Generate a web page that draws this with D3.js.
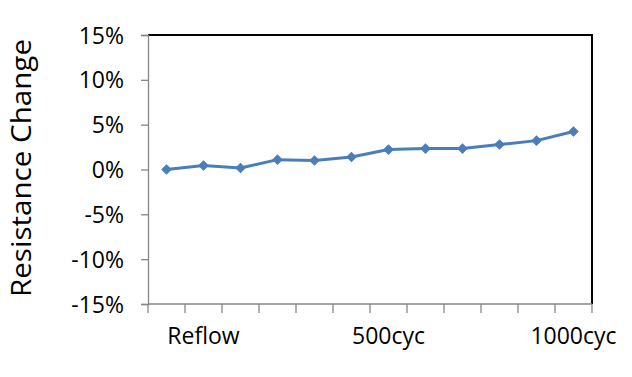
<!DOCTYPE html>
<html><head><meta charset="utf-8">
<script src="https://cdn.jsdelivr.net/npm/d3@7/dist/d3.min.js"></script>
<style>body{margin:0;background:#fff}svg{display:block}text{font-family:"Open Sans",sans-serif;fill:#000}</style>
</head><body><svg id="c" width="632" height="377"></svg>
<script>
const categories = ["0","Reflow","100","200","300","400","500cyc","600","700","800","900","1000cyc"];
const shownLabels = ["Reflow","500cyc","1000cyc"];
const values = [0.000,0.0044,0.0017,0.0110,0.0100,0.0140,0.0222,0.0233,0.0233,0.0278,0.0322,0.0423];
const yTicks = [-0.15,-0.10,-0.05,0,0.05,0.10,0.15];
const yTitle = "Resistance Change";

const svg = d3.select("#c");
const L=148,R=592,T=35,B=304;
const x = d3.scaleBand().domain(categories).range([L,R]).padding(0);
const y = d3.scaleLinear().domain([-0.15,0.15]).range([B,T]);

// top/right border
svg.append("path").attr("d",`M${L},${T}H${R}V${B}`).attr("fill","none").attr("stroke","#000").attr("stroke-width",2);

// y axis
const ya = svg.append("g").attr("transform",`translate(${L},0)`)
  .call(d3.axisLeft(y).tickValues(yTicks).tickSize(7).tickPadding(17).tickFormat(d=>Math.round(d*100)+"%"));
ya.select(".domain").attr("stroke","#868686").attr("stroke-width",1.3);
ya.selectAll(".tick line").attr("stroke","#868686").attr("stroke-width",1.3);
ya.selectAll(".tick text").style("font-size","23px").attr("fill","#000").attr("dy","0.35em").style("font-family","'Open Sans',sans-serif");

// x axis
const xa = svg.append("g").attr("transform",`translate(0,${B})`)
  .call(d3.axisBottom(x).tickSize(0).tickPadding(24).tickFormat(d=>shownLabels.includes(d)?d:""));
xa.select(".domain").attr("stroke","#868686").attr("stroke-width",1.3).attr("d",`M${L},0H${R}`);
xa.selectAll(".tick text").style("font-size","23px").attr("fill","#000").style("font-family","'Open Sans',sans-serif");
// boundary ticks
const bounds = categories.map(c=>x(c)).concat([R]);
xa.selectAll(".bt").data(bounds).join("line").attr("class","bt")
  .attr("x1",d=>d).attr("x2",d=>d).attr("y1",0).attr("y2",9)
  .attr("stroke","#868686").attr("stroke-width",1.3);

// line
const cx = d=>x(d)+x.bandwidth()/2;
const line = d3.line().x((d,i)=>cx(categories[i])).y(d=>y(d));
svg.append("path").datum(values).attr("d",line).attr("fill","none")
  .attr("stroke","#4A7EBB").attr("stroke-width",3).attr("stroke-linejoin","round");
svg.selectAll(".pt").data(values).join("path").attr("class","pt")
  .attr("d",d3.symbol(d3.symbolSquare,42))
  .attr("transform",(d,i)=>`translate(${cx(categories[i])},${y(d)}) rotate(45)`)
  .attr("fill","#4A7EBB").attr("stroke","#4A7EBB").attr("stroke-width",1);

// y title
svg.append("text").attr("transform","translate(31,168) rotate(-90)")
  .attr("text-anchor","middle").style("font-size","27px")
  .attr("textLength",258).attr("lengthAdjust","spacingAndGlyphs").text(yTitle);
</script></body></html>
